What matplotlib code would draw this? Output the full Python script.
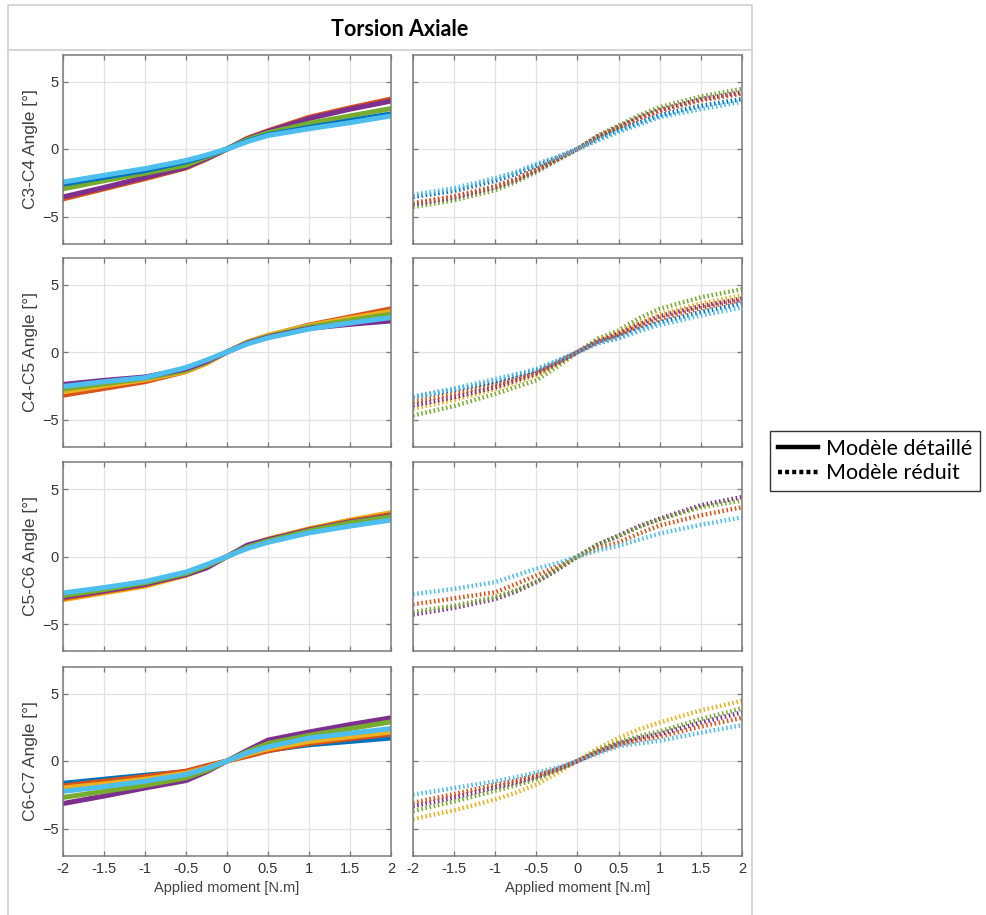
import matplotlib
matplotlib.use('Agg')
from matplotlib import pyplot as plt
from matplotlib.lines import Line2D
from matplotlib.patches import Rectangle

# MATLAB default colours
BLUE = '#0072BD'
RED = '#D95319'
YELLOW = '#EDB120'
PURPLE = '#7E2F8E'
GREEN = '#77AC30'
LBLUE = '#4DBEEE'

title = 'Torsion Axiale'
row_labels = ['C3-C4 Angle [°]', 'C4-C5 Angle [°]', 'C5-C6 Angle [°]', 'C6-C7 Angle [°]']
xlabel = 'Applied moment [N.m]'
legend_labels = ['Modèle détaillé', 'Modèle réduit']

# applied moment for detailed model (solid) and reduced model (dotted)
x_det = [-2, -1.5, -1, -0.5, -0.25, 0, 0.25, 0.5, 1, 1.5, 2]
x_red = [-2, -1.5, -1, -0.75, -0.5, -0.25, 0, 0.25, 0.5, 0.75, 1, 1.5, 2]

# C3-C4
c34_det = [
    (RED,    [-3.7, -2.95, -2.2, -1.4, -0.75, 0, 0.8, 1.35, 2.35, 3.05, 3.7]),
    (PURPLE, [-3.55, -2.85, -2.1, -1.35, -0.7, 0, 0.75, 1.3, 2.25, 2.95, 3.55]),
    (GREEN,  [-2.95, -2.35, -1.8, -1.2, -0.6, 0, 0.7, 1.2, 1.9, 2.45, 3.0]),
    (BLUE,   [-2.6, -2.1, -1.6, -0.95, -0.5, 0, 0.6, 1.05, 1.6, 2.1, 2.6]),
    (LBLUE,  [-2.45, -1.95, -1.45, -0.85, -0.45, 0, 0.55, 1.0, 1.5, 1.95, 2.45]),
]
c34_red = [
    (GREEN,  [-4.3, -3.8, -3.05, -2.45, -1.7, -0.85, 0, 1.0, 1.75, 2.5, 3.1, 3.9, 4.45]),
    (PURPLE, [-4.1, -3.6, -2.85, -2.3, -1.6, -0.8, 0, 0.95, 1.65, 2.35, 2.9, 3.7, 4.2]),
    (RED,    [-4.0, -3.5, -2.75, -2.2, -1.5, -0.75, 0, 0.9, 1.6, 2.25, 2.8, 3.6, 4.1]),
    (BLUE,   [-3.55, -3.1, -2.35, -1.85, -1.25, -0.65, 0, 0.75, 1.4, 1.95, 2.5, 3.2, 3.7]),
    (LBLUE,  [-3.4, -2.9, -2.15, -1.7, -1.1, -0.6, 0, 0.65, 1.25, 1.8, 2.35, 2.95, 3.5]),
]

# C4-C5
c45_det = [
    (RED,    [-3.2, -2.7, -2.2, -1.45, -0.8, 0, 0.7, 1.2, 2.0, 2.6, 3.2]),
    (YELLOW, [-2.95, -2.5, -2.05, -1.45, -0.85, 0, 0.75, 1.25, 1.95, 2.5, 3.0]),
    (GREEN,  [-2.75, -2.35, -1.95, -1.35, -0.75, 0, 0.7, 1.15, 1.85, 2.35, 2.8]),
    (PURPLE, [-2.4, -2.1, -1.85, -1.25, -0.7, 0, 0.65, 1.1, 1.75, 2.05, 2.3]),
    (LBLUE,  [-2.55, -2.2, -1.9, -1.15, -0.6, 0, 0.6, 1.05, 1.7, 2.15, 2.55]),
]
c45_red = [
    (GREEN,  [-4.7, -4.0, -3.1, -2.6, -2.1, -1.1, 0, 1.0, 1.6, 2.5, 3.2, 4.05, 4.65]),
    (YELLOW, [-4.2, -3.55, -2.75, -2.25, -1.75, -0.9, 0, 0.85, 1.45, 2.15, 2.8, 3.6, 4.2]),
    (PURPLE, [-3.95, -3.35, -2.6, -2.1, -1.6, -0.85, 0, 0.8, 1.35, 2.05, 2.65, 3.4, 3.95]),
    (RED,    [-3.7, -3.1, -2.4, -1.95, -1.5, -0.8, 0, 0.75, 1.25, 1.9, 2.45, 3.25, 3.85]),
    (BLUE,   [-3.35, -2.8, -2.2, -1.75, -1.35, -0.7, 0, 0.7, 1.1, 1.7, 2.2, 2.95, 3.6]),
    (LBLUE,  [-3.3, -2.7, -2.0, -1.65, -1.25, -0.65, 0, 0.65, 1.0, 1.55, 2.0, 2.7, 3.3]),
]

# C5-C6
c56_det = [
    (YELLOW, [-3.2, -2.7, -2.2, -1.4, -0.8, 0, 0.75, 1.3, 2.05, 2.7, 3.25]),
    (RED,    [-3.1, -2.6, -2.1, -1.3, -0.7, 0, 0.7, 1.2, 2.0, 2.6, 3.1]),
    (PURPLE, [-3.0, -2.55, -2.05, -1.35, -0.85, 0, 0.85, 1.25, 1.95, 2.55, 3.0]),
    (GREEN,  [-2.9, -2.45, -1.95, -1.25, -0.7, 0, 0.7, 1.15, 1.9, 2.5, 2.95]),
    (LBLUE,  [-2.7, -2.3, -1.85, -1.15, -0.6, 0, 0.6, 1.05, 1.75, 2.25, 2.7]),
]
c56_red = [
    (PURPLE, [-4.3, -3.8, -3.15, -2.6, -1.9, -1.0, 0, 0.9, 1.55, 2.25, 2.8, 3.8, 4.4]),
    (GREEN,  [-4.1, -3.65, -3.0, -2.5, -1.85, -0.95, 0, 0.9, 1.5, 2.2, 2.75, 3.65, 4.15]),
    (RED,    [-3.55, -3.1, -2.65, -2.05, -1.4, -0.75, 0, 0.6, 1.05, 1.7, 2.3, 3.05, 3.65]),
    (LBLUE,  [-2.8, -2.4, -1.9, -1.4, -0.9, -0.5, 0, 0.45, 0.8, 1.25, 1.7, 2.35, 2.9]),
]

# C6-C7
c67_det = [
    (PURPLE, [-3.15, -2.6, -2.0, -1.45, -0.8, 0, 0.8, 1.55, 2.15, 2.7, 3.2]),
    (GREEN,  [-2.7, -2.25, -1.8, -1.25, -0.7, 0, 0.7, 1.3, 1.9, 2.4, 2.9]),
    (BLUE,   [-1.65, -1.35, -1.05, -0.8, -0.4, 0, 0.45, 0.8, 1.2, 1.45, 1.7]),
    (RED,    [-1.85, -1.5, -1.15, -0.75, -0.35, 0, 0.35, 0.75, 1.3, 1.65, 2.0]),
    (YELLOW, [-2.0, -1.7, -1.35, -0.9, -0.5, 0, 0.5, 0.9, 1.45, 1.8, 2.15]),
    (LBLUE,  [-2.25, -1.9, -1.5, -1.0, -0.55, 0, 0.6, 1.05, 1.7, 2.05, 2.4]),
]
c67_red = [
    (YELLOW, [-4.3, -3.65, -2.85, -2.35, -1.75, -0.9, 0, 0.95, 1.7, 2.35, 2.85, 3.75, 4.45]),
    (GREEN,  [-3.7, -3.0, -2.2, -1.8, -1.35, -0.7, 0, 0.8, 1.4, 1.85, 2.2, 3.1, 3.9]),
    (PURPLE, [-3.35, -2.7, -1.95, -1.6, -1.2, -0.65, 0, 0.7, 1.3, 1.7, 2.0, 2.85, 3.6]),
    (RED,    [-3.1, -2.45, -1.75, -1.45, -1.05, -0.6, 0, 0.65, 1.2, 1.55, 1.8, 2.55, 3.2]),
    (LBLUE,  [-2.5, -2.0, -1.5, -1.2, -0.85, -0.5, 0, 0.55, 1.1, 1.3, 1.5, 2.1, 2.65]),
]

rows = [(c34_det, c34_red), (c45_det, c45_red), (c56_det, c56_red), (c67_det, c67_red)]

W, H = 987, 915
TICK_FONT = ['Liberation Sans Narrow', 'Liberation Sans', 'DejaVu Sans']
DOT = (0, (0.35, 0.6))


def px_axes(fig, left, top, width, height):
    return fig.add_axes([left / W, 1 - (top + height) / H, width / W, height / H])


def style_axes(ax, show_x, show_y):
    ax.set_xlim(-2, 2)
    ax.set_ylim(-7, 7)
    ax.set_xticks([-2, -1.5, -1, -0.5, 0, 0.5, 1, 1.5, 2])
    ax.set_yticks([-5, 0, 5])
    ax.grid(True, color='#e2e2e2', linewidth=0.9)
    ax.set_axisbelow(True)
    for s in ax.spines.values():
        s.set_color('#7a7a7a')
        s.set_linewidth(1.1)
    ax.tick_params(direction='in', length=3.5, width=0.9, color='#7a7a7a',
                   top=True, right=True, labelsize=10.5, labelcolor='#333333',
                   labelbottom=show_x, labelleft=show_y, pad=5)
    ax.tick_params(axis='y', pad=3)
    ax.set_xticklabels(['-2', '-1.5', '-1', '-0.5', '0', '0.5', '1', '1.5', '2'])
    for lab in ax.get_xticklabels() + ax.get_yticklabels():
        lab.set_family(TICK_FONT)


fig = plt.figure(figsize=(W / 100, H / 100), dpi=100)

# outer frame and title box
frame_col = '#cfcfcf'
fig.add_artist(Rectangle((8 / W, 1 - 50 / H), 744 / W, 45 / H, transform=fig.transFigure,
                         facecolor='none', edgecolor=frame_col, linewidth=1.2))
fig.add_artist(Line2D([8 / W, 8 / W], [0, 1 - 50 / H], transform=fig.transFigure,
                      color=frame_col, linewidth=1.2))
fig.add_artist(Line2D([752 / W, 752 / W], [0, 1 - 50 / H], transform=fig.transFigure,
                      color=frame_col, linewidth=1.2))
fig.text(400 / W, 1 - 29 / H, title, ha='center', va='center', fontsize=15.5,
         fontweight='bold', family=['Lato', 'DejaVu Sans'])

tops = [54.5, 257.5, 462, 666.5]
for i, (det, red) in enumerate(rows):
    last = i == len(rows) - 1
    ax_l = px_axes(fig, 63, tops[i], 328, 189)
    ax_r = px_axes(fig, 413, tops[i], 329, 189)
    for col, y in det:
        ax_l.plot(x_det, y, color=col, linewidth=3.6, solid_joinstyle='round')
    for col, y in red:
        ax_r.plot(x_red, y, color=col, linewidth=3.2, linestyle=DOT, dash_capstyle='butt')
    style_axes(ax_l, last, True)
    style_axes(ax_r, last, False)
    ax_l.set_ylabel(row_labels[i], fontsize=12.5, color='#404040', family=TICK_FONT, labelpad=4)
    ax_l.yaxis.set_label_coords(-25 / 328, 0.5)
    if last:
        ax_l.set_xlabel(xlabel, fontsize=10.5, color='#404040', family=TICK_FONT, labelpad=3)
        ax_r.set_xlabel(xlabel, fontsize=10.5, color='#404040', family=TICK_FONT, labelpad=3)

handles = [Line2D([], [], color='black', linewidth=3.2),
           Line2D([], [], color='black', linewidth=3.2, linestyle=(0, (0.9, 0.7)),
                  dash_capstyle='butt')]
leg = fig.legend(handles, legend_labels, loc='center left',
                 bbox_to_anchor=(770 / W, 1 - 461 / H),
                 prop={'family': ['Lato', 'DejaVu Sans'], 'size': 15.5},
                 frameon=True, fancybox=False, borderpad=0.35, handlelength=1.9,
                 handletextpad=0.35, labelspacing=0.2, borderaxespad=0)
leg.get_frame().set_edgecolor('black')
leg.get_frame().set_linewidth(1.0)

fig.savefig('out.png', dpi=100)
